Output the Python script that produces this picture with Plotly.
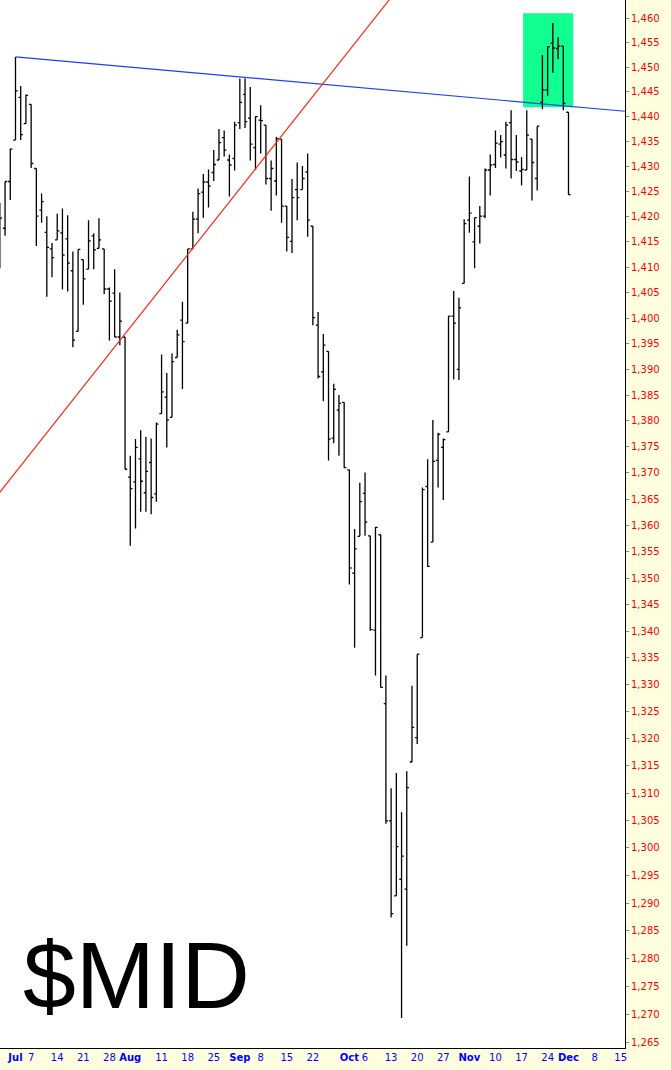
import math
import plotly.graph_objects as go

# trading-day index: 0 = 2014-07-01 (Jun 26 .. Dec 1, 2014)
day_index = list(range(-3, 107))

opens = [1412.0, 1417.7, 1427.0,
         1435.3, 1443.9, 1438.6, 1442.5, 1429.6, 1421.3, 1416.9, 1413.6, 1415.4, 1416.8,
         1415.6, 1409.3, 1397.4, 1411.5, 1409.6, 1416.2, 1413.7, 1413.6, 1405.7, 1404.9,
         1396.3, 1396.3, 1369.2, 1368.3, 1372.7, 1366.2, 1372.0, 1366.0, 1381.4, 1384.6,
         1380.7, 1392.3, 1399.6, 1399.0, 1413.6, 1419.5, 1424.9, 1426.9, 1428.8, 1431.3,
         1435.8, 1431.3, 1431.6, 1438.8, 1444.5, 1439.7, 1433.8, 1439.3, 1438.3, 1427.6,
         1427.1, 1435.5, 1422.1, 1415.1, 1425.4, 1425.4, 1428.9, 1418.1, 1398.6, 1389.5,
         1393.5, 1376.7, 1382.1, 1383.6, 1370.6, 1350.9, 1357.9, 1366.1, 1358.0, 1340.2,
         1358.2, 1326.5, 1304.9, 1291.3, 1294.3, 1292.5, 1315.7, 1320.2, 1338.8, 1367.4,
         1356.8, 1372.4, 1374.9, 1377.9, 1400.4, 1390.0, 1406.8, 1419.3, 1415.0, 1418.1,
         1420.1, 1429.3, 1430.4, 1434.5, 1432.3, 1438.8, 1431.4, 1429.1, 1429.3, 1435.5,
         1427.6, 1442.9, 1445.4, 1454.9, 1453.8, 1454.3, 1440.9]
highs = [1422.7, 1427.0, 1433.6,
         1452.1, 1446.2, 1444.5, 1442.5, 1429.6, 1424.6, 1420.1, 1414.8, 1420.6, 1421.6,
         1420.3, 1413.1, 1413.5, 1411.5, 1419.3, 1416.7, 1419.7, 1413.6, 1406.0, 1409.6,
         1405.0, 1396.3, 1373.3, 1376.5, 1378.2, 1376.9, 1376.6, 1379.7, 1392.9, 1389.3,
         1393.1, 1397.7, 1403.2, 1413.6, 1421.0, 1425.6, 1428.5, 1429.4, 1433.3, 1437.5,
         1437.2, 1432.4, 1439.0, 1447.7, 1447.7, 1446.0, 1440.1, 1442.3, 1438.3, 1431.2,
         1435.9, 1435.5, 1422.1, 1427.5, 1430.8, 1430.1, 1432.6, 1418.1, 1401.2, 1396.9,
         1393.5, 1387.2, 1385.0, 1383.6, 1370.6, 1359.3, 1368.1, 1370.1, 1358.0, 1359.7,
         1358.2, 1331.7, 1310.9, 1313.7, 1306.5, 1314.0, 1329.8, 1335.7, 1367.2, 1372.6,
         1380.2, 1377.7, 1376.6, 1400.4, 1405.3, 1404.0, 1419.5, 1428.0, 1419.8, 1422.1,
         1429.6, 1432.4, 1437.2, 1436.3, 1439.0, 1441.3, 1436.3, 1431.9, 1441.3, 1435.5,
         1438.1, 1452.5, 1454.2, 1459.0, 1456.1, 1454.3, 1440.9]
lows = [1409.8, 1416.2, 1423.3,
        1435.3, 1435.3, 1438.6, 1429.7, 1414.2, 1418.8, 1404.2, 1408.0, 1415.4, 1405.6,
        1405.2, 1394.3, 1397.4, 1402.6, 1409.6, 1409.6, 1413.7, 1404.7, 1395.6, 1396.3,
        1394.7, 1370.7, 1356.1, 1359.4, 1362.6, 1362.6, 1362.1, 1364.5, 1381.4, 1374.9,
        1380.7, 1392.3, 1386.2, 1399.0, 1413.6, 1416.7, 1419.8, 1421.8, 1427.1, 1431.3,
        1432.0, 1424.0, 1429.2, 1437.5, 1437.7, 1431.2, 1429.3, 1432.6, 1426.4, 1421.2,
        1424.2, 1418.8, 1413.1, 1412.8, 1419.3, 1425.4, 1416.0, 1398.6, 1388.2, 1383.8,
        1372.4, 1375.7, 1373.3, 1371.0, 1348.8, 1336.9, 1357.9, 1358.0, 1340.1, 1331.7,
        1329.5, 1304.4, 1287.4, 1291.3, 1269.4, 1282.3, 1315.7, 1319.0, 1338.8, 1352.1,
        1356.8, 1367.2, 1364.8, 1377.9, 1388.0, 1387.9, 1406.8, 1416.8, 1409.8, 1414.7,
        1419.7, 1424.2, 1429.7, 1431.8, 1429.6, 1427.6, 1429.1, 1426.2, 1429.3, 1423.2,
        1425.2, 1441.5, 1444.2, 1448.9, 1451.6, 1441.3, 1424.3]
closes = [1419.7, 1427.0, 1433.5,
          1445.2, 1436.4, 1444.3, 1430.6, 1420.1, 1423.0, 1413.9, 1411.9, 1417.2, 1412.4,
          1410.8, 1395.7, 1413.5, 1407.7, 1415.2, 1413.4, 1415.4, 1405.7, 1403.3, 1396.3,
          1399.4, 1370.7, 1367.0, 1374.9, 1368.4, 1370.3, 1365.3, 1379.4, 1385.6, 1380.2,
          1391.5, 1396.7, 1395.4, 1413.6, 1419.5, 1424.6, 1426.9, 1426.1, 1430.4, 1434.8,
          1433.3, 1430.3, 1438.3, 1442.9, 1439.0, 1434.5, 1440.0, 1439.2, 1427.6, 1429.6,
          1435.6, 1422.1, 1415.9, 1423.8, 1423.8, 1427.6, 1419.3, 1400.1, 1388.6, 1394.7,
          1376.5, 1386.1, 1383.4, 1371.0, 1351.9, 1355.5, 1364.5, 1360.6, 1340.3, 1359.6,
          1329.5, 1304.9, 1288.1, 1300.2, 1298.5, 1311.0, 1322.1, 1335.7, 1366.8, 1352.2,
          1372.2, 1377.4, 1376.4, 1400.4, 1399.0, 1402.0, 1418.6, 1420.7, 1419.8, 1420.1,
          1429.3, 1430.3, 1434.7, 1435.0, 1438.3, 1431.4, 1430.9, 1429.4, 1436.3, 1430.8,
          1438.1, 1445.4, 1454.2, 1453.9, 1454.3, 1442.7, 1424.4]

# date axis labels (trading-day index of each label)
tick_index = [0, 3, 8, 13, 18, 22, 28, 33, 38, 43, 47, 52, 57, 64, 67, 72, 77, 82,
              87, 92, 97, 102, 106, 111, 116]
tick_labels = ["Jul", "7", "14", "21", "28", "Aug", "11", "18", "25", "Sep", "8", "15",
               "22", "Oct", "6", "13", "20", "27", "Nov", "10", "17", "24", "Dec", "8", "15"]
month_names = {"Jul", "Aug", "Sep", "Oct", "Nov", "Dec"}

price_ticks = list(range(1265, 1461, 5))

# drawn trendlines and highlight box
blue_x = [0, 116.8]
blue_y = [1452.1, 1441.1]
red_x = [10, 60]
red_y = [1382.8, 1448.1]
box_x = [97.3, 106.9]
box_y = [1441.9, 1461.0]

x_range = [-2.97, 116.83]
y_range = [1264.1, 1463.7]

ticktext_x = ["<b>%s</b>" % t if t in month_names else t for t in tick_labels]
ticktext_y = ["{:,}".format(p) for p in price_ticks]

# red line extended in log space through its two anchor points
slope = (math.log(red_y[1]) - math.log(red_y[0])) / (red_x[1] - red_x[0])
red_ext_x = [-6, 80]
red_ext_y = [math.exp(math.log(red_y[0]) + slope * (xx - red_x[0])) for xx in red_ext_x]

fig = go.Figure()
fig.add_trace(go.Scatter(x=blue_x, y=blue_y, mode="lines",
                         line=dict(color="#1E3CFF", width=1.2), hoverinfo="skip"))
fig.add_trace(go.Scatter(x=red_ext_x, y=red_ext_y, mode="lines",
                         line=dict(color="#FF2A1A", width=1.2), hoverinfo="skip"))
fig.add_trace(go.Ohlc(
    x=day_index, open=opens, high=highs, low=lows, close=closes,
    increasing=dict(line=dict(color="black", width=1.3)),
    decreasing=dict(line=dict(color="black", width=1.3)),
    tickwidth=0.42))

# highlight box drawn beneath the bars
fig.add_shape(type="rect", xref="x", yref="y", layer="below",
              x0=box_x[0], x1=box_x[1], y0=box_y[0], y1=box_y[1],
              fillcolor="#10FF90", line=dict(width=0))

fig.add_annotation(text="$MID", xref="paper", yref="paper", x=0.0335, y=0.070,
                   xanchor="left", yanchor="middle", showarrow=False,
                   font=dict(family="Liberation Sans, Arial", size=95, color="black"))

fig.update_layout(
    width=671, height=1070,
    margin=dict(l=0, r=46, t=0, b=22),
    paper_bgcolor="#FFFFE0", plot_bgcolor="white",
    showlegend=False,
    xaxis=dict(range=x_range, tickmode="array", tickvals=tick_index, ticktext=ticktext_x,
               showgrid=False, zeroline=False, showline=True, linecolor="black",
               linewidth=1, ticks="", rangeslider=dict(visible=False),
               tickfont=dict(family="DejaVu Sans", size=10, color="#0000FF")),
    yaxis=dict(type="log", side="right",
               range=[math.log10(y_range[0]), math.log10(y_range[1])],
               tickmode="array", tickvals=price_ticks, ticktext=ticktext_y,
               showgrid=False, zeroline=False, showline=True, linecolor="black",
               linewidth=1, ticks="outside", ticklen=3, tickcolor="#8080C0",
               tickfont=dict(family="DejaVu Sans", size=10, color="#FF0000")),
)

fig.write_html("out.html", config={"displayModeBar": False},
               post_script="document.body.style.margin='0';"
                           "document.body.style.overflow='hidden';")
